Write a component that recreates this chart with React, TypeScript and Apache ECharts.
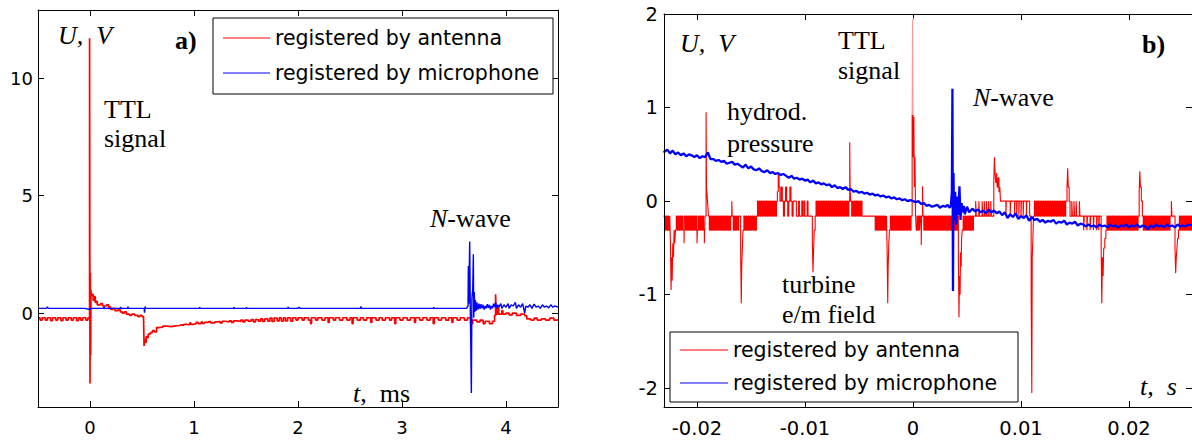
import React, { useEffect, useRef } from 'react';
import * as echarts from 'echarts';

const seriesNames = ['registered by antenna', 'registered by microphone'];

const xTicksA = [0, 1, 2, 3, 4];
const yTicksA = [0, 5, 10];
const xTicksB = [-0.02, -0.01, 0, 0.01, 0.02];
const yTicksB = [-2, -1, 0, 1, 2];

// Panel a) t in ms, U in V
const antennaA: [number, number][] = [
  [-0.5, -0.2], [-0.48, -0.3], [-0.46, -0.2], [-0.43, -0.3], [-0.41, -0.2], [-0.38, -0.32], [-0.36, -0.2], [-0.33, -0.3], [-0.31, -0.2],
  [-0.28, -0.32], [-0.26, -0.2], [-0.23, -0.3], [-0.21, -0.2], [-0.18, -0.3], [-0.16, -0.2], [-0.13, -0.32], [-0.11, -0.2], [-0.09, -0.3],
  [-0.07, -0.2], [-0.04, -0.3], [-0.02, -0.2],
  [-0.004, 11.7], [0.0, -3.0], [0.003, 1.7], [0.006, -1.8], [0.009, 1.0], [0.012, 0.75], [0.02, 0.8], [0.03, 0.55], [0.04, 0.7],
  [0.05, 0.45], [0.06, 0.5], [0.07, 0.35], [0.1, 0.4], [0.12, 0.3], [0.16, 0.35], [0.18, 0.25], [0.2, 0.15], [0.22, 0.2], [0.24, 0.1],
  [0.27, 0.15], [0.29, 0.05], [0.31, 0.0], [0.33, 0.05], [0.35, -0.05], [0.38, -0.1], [0.4, -0.05], [0.43, -0.1], [0.46, -0.15],
  [0.48, -0.1], [0.5, -0.15], [0.515, -0.25], [0.52, -1.4], [0.525, -1.1], [0.53, -1.25], [0.54, -1.0], [0.55, -1.05], [0.56, -0.9],
  [0.58, -0.83], [0.6, -0.75], [0.62, -0.8], [0.64, -0.62], [0.66, -0.6], [0.7, -0.56], [0.74, -0.58], [0.78, -0.55], [0.82, -0.53],
  [0.86, -0.5], [0.88, -0.53], [0.9, -0.48], [0.93, -0.5], [0.96, -0.42], [0.97, -0.48], [1.0, -0.45], [1.02, -0.4], [1.04, -0.45],
  [1.07, -0.38], [1.08, -0.44], [1.1, -0.4], [1.14, -0.36], [1.16, -0.42], [1.2, -0.38], [1.23, -0.35], [1.25, -0.42], [1.27, -0.35],
  [1.3, -0.38], [1.34, -0.33], [1.36, -0.4], [1.38, -0.33], [1.42, -0.36], [1.45, -0.3], [1.47, -0.38], [1.49, -0.3], [1.52, -0.35],
  [1.55, -0.28], [1.57, -0.38], [1.59, -0.28], [1.62, -0.35], [1.64, -0.25], [1.66, -0.36], [1.68, -0.25], [1.71, -0.35], [1.73, -0.22],
  [1.75, -0.36], [1.77, -0.22], [1.8, -0.33], [1.82, -0.2], [1.84, -0.35], [1.86, -0.2], [1.88, -0.33], [1.9, -0.2], [1.93, -0.35],
  [1.95, -0.2], [1.98, -0.3], [2.0, -0.2], [2.04, -0.3], [2.06, -0.2], [2.1, -0.3], [2.12, -0.45], [2.13, -0.2], [2.17, -0.3],
  [2.19, -0.2], [2.23, -0.3], [2.26, -0.2], [2.29, -0.4], [2.3, -0.2], [2.34, -0.3], [2.36, -0.2], [2.4, -0.3], [2.43, -0.2],
  [2.47, -0.3], [2.5, -0.2], [2.52, -0.45], [2.53, -0.2], [2.57, -0.3], [2.6, -0.2], [2.63, -0.3], [2.66, -0.2], [2.7, -0.4],
  [2.71, -0.2], [2.75, -0.3], [2.78, -0.2], [2.81, -0.3], [2.84, -0.2], [2.88, -0.3], [2.9, -0.2], [2.93, -0.45], [2.94, -0.2],
  [2.98, -0.3], [3.01, -0.2], [3.05, -0.3], [3.08, -0.2], [3.12, -0.4], [3.13, -0.2], [3.17, -0.3], [3.2, -0.2], [3.24, -0.3],
  [3.27, -0.2], [3.3, -0.45], [3.31, -0.2], [3.35, -0.3], [3.38, -0.2], [3.42, -0.3], [3.45, -0.2], [3.48, -0.4], [3.49, -0.2],
  [3.53, -0.3], [3.56, -0.2], [3.6, -0.3], [3.63, -0.2], [3.66, -0.45], [3.68, -0.3], [3.72, -0.38], [3.75, -0.3], [3.78, -0.45],
  [3.8, -0.35], [3.84, -0.45], [3.87, -0.35], [3.89, -0.1], [3.9, 0.8], [3.905, -0.05], [3.92, 0.3], [3.93, -0.05], [3.96, 0.1],
  [3.97, -0.05], [4.0, 0.0], [4.03, -0.08], [4.06, 0.0], [4.1, -0.1], [4.14, -0.05], [4.18, -0.12], [4.2, -0.25], [4.24, -0.3],
  [4.27, -0.22], [4.3, -0.3], [4.34, -0.25], [4.38, -0.3], [4.42, -0.22], [4.46, -0.3], [4.5, -0.25],
];

const microphoneA: [number, number][] = [
  [-0.5, 0.2], [-0.42, 0.2], [-0.41, 0.26], [-0.4, 0.2], [-0.05, 0.2], [0.0, 0.15], [0.01, 0.2], [0.13, 0.2], [0.135, 0.27],
  [0.14, 0.2], [0.29, 0.2], [0.295, 0.26], [0.3, 0.2], [0.36, 0.2], [0.365, 0.27], [0.37, 0.2], [0.52, 0.2], [0.525, 0.02],
  [0.53, 0.28], [0.535, 0.2], [1.05, 0.2], [1.055, 0.25], [1.06, 0.2], [1.38, 0.2], [1.385, 0.25], [1.39, 0.2], [1.5, 0.2],
  [1.505, 0.25], [1.51, 0.2], [1.9, 0.2], [1.905, 0.26], [1.91, 0.2], [2.0, 0.2], [2.01, 0.25], [2.02, 0.2], [2.6, 0.2],
  [2.605, 0.28], [2.61, 0.2], [3.3, 0.2], [3.305, 0.25], [3.31, 0.2], [3.62, 0.2], [3.635, 0.3], [3.638, 2.0], [3.642, 0.4],
  [3.651, 3.05], [3.656, 0.5], [3.667, -3.4], [3.672, 0.6], [3.68, 1.0], [3.686, 2.5], [3.69, -0.2], [3.695, 0.9], [3.7, 0.05],
  [3.705, 0.55], [3.715, 0.1], [3.72, 0.45], [3.73, 0.15], [3.74, 0.4], [3.75, 0.18], [3.76, 0.38], [3.77, 0.2], [3.78, 0.35],
  [3.79, 0.15], [3.8, 0.3], [3.81, 0.2], [3.82, 0.38], [3.83, 0.22], [3.84, 0.35], [3.85, 0.15], [3.86, 0.3], [3.87, 0.2],
  [3.88, 0.4], [3.89, 0.25], [3.9, 0.45], [3.91, 0.2], [3.92, 0.35], [3.93, 0.25], [3.95, 0.4], [3.96, 0.2], [3.98, 0.35],
  [4.0, 0.25], [4.02, 0.4], [4.03, 0.2], [4.05, 0.35], [4.07, 0.3], [4.09, 0.45], [4.1, 0.2], [4.12, 0.35], [4.14, 0.25],
  [4.16, 0.4], [4.18, 0.0], [4.19, 0.3], [4.21, 0.25], [4.23, 0.35], [4.25, 0.2], [4.27, 0.38], [4.29, 0.25], [4.31, 0.3],
  [4.33, 0.2], [4.35, 0.35], [4.37, 0.25], [4.39, 0.3], [4.41, 0.22], [4.43, 0.35], [4.45, 0.25], [4.47, 0.3], [4.5, 0.25],
];

// Panel b) t in s, U in V
const antennaB: [number, number][] = [
  [-0.0231, -0.16], [-0.02292, -0.31], [-0.02284, -0.16], [-0.02276, -0.31], [-0.02268, -0.16], [-0.0226, -0.31], [-0.02252, -0.16],
  [-0.02246, -0.45], [-0.0224, -0.95], [-0.02236, -0.6], [-0.0223, -0.85], [-0.02224, -0.45], [-0.02218, -0.6], [-0.02212, -0.31],
  [-0.02206, -0.45], [-0.022, -0.31], [-0.02192, -0.16], [-0.02184, -0.31], [-0.02176, -0.16], [-0.02166, -0.31], [-0.02158, -0.16],
  [-0.02148, -0.31], [-0.0214, -0.16], [-0.0213, -0.31], [-0.0212, -0.45], [-0.02116, -0.16], [-0.02106, -0.31], [-0.02098, -0.16],
  [-0.02088, -0.31], [-0.0208, -0.16], [-0.0207, -0.31], [-0.02062, -0.16], [-0.02054, -0.31], [-0.02046, -0.16], [-0.02036, -0.31],
  [-0.02028, -0.16], [-0.02018, -0.31], [-0.0201, -0.16], [-0.02, -0.45], [-0.01996, -0.31], [-0.01986, -0.16], [-0.01976, -0.31],
  [-0.01968, -0.16], [-0.01958, -0.31], [-0.0195, -0.16], [-0.0194, -0.31], [-0.01932, -0.45], [-0.01926, -0.16],
  [-0.01916, 0.95], [-0.01912, 0.15], [-0.01906, 0.05], [-0.019, -0.05], [-0.01894, -0.16],
  [-0.01886, -0.31], [-0.01876, -0.16], [-0.01866, -0.31], [-0.01858, -0.16], [-0.01848, -0.31], [-0.0184, -0.16], [-0.0183, -0.31],
  [-0.0182, -0.16], [-0.0181, -0.31], [-0.018, -0.16], [-0.0179, -0.31], [-0.01782, -0.16], [-0.01772, -0.31], [-0.01764, -0.16],
  [-0.01754, -0.31], [-0.01746, -0.16], [-0.01736, -0.31], [-0.01726, -0.16], [-0.01716, -0.31], [-0.01706, -0.16], [-0.01698, -0.31],
  [-0.01688, -0.16], [-0.01678, 0.0], [-0.01674, -0.16], [-0.01664, -0.31], [-0.01654, -0.16], [-0.01644, -0.31], [-0.01634, -0.16],
  [-0.01624, -0.31], [-0.01614, -0.16],
  [-0.01596, -0.55], [-0.0159, -1.09], [-0.01586, -0.7], [-0.0158, -0.5], [-0.01574, -0.31], [-0.01566, -0.16],
  [-0.01558, -0.31], [-0.01548, -0.16], [-0.0154, -0.31], [-0.0153, -0.16], [-0.0152, -0.31], [-0.0151, -0.16], [-0.015, -0.31],
  [-0.0149, -0.16], [-0.0148, -0.31], [-0.0147, -0.16], [-0.0146, -0.31], [-0.0145, -0.16], [-0.0144, 0.0],
  [-0.01432, -0.16], [-0.01424, 0.0], [-0.01416, -0.16], [-0.01408, 0.0], [-0.014, -0.16], [-0.01392, 0.0], [-0.01384, -0.16],
  [-0.01376, 0.0], [-0.01368, -0.16], [-0.0136, 0.0], [-0.01352, -0.16], [-0.01344, 0.0], [-0.01336, -0.16], [-0.01328, 0.0],
  [-0.0132, -0.16], [-0.01312, 0.0], [-0.01304, -0.16], [-0.01296, 0.0], [-0.01288, -0.16], [-0.0128, 0.0], [-0.01272, -0.16],
  [-0.01264, 0.0], [-0.01256, 0.1], [-0.01248, 0.28], [-0.0124, 0.15], [-0.01232, 0.0], [-0.0122, 0.15], [-0.0121, 0.0],
  [-0.012, -0.16], [-0.0119, 0.0], [-0.0118, 0.15], [-0.0117, 0.0], [-0.0116, -0.16], [-0.0115, 0.0], [-0.0114, 0.15],
  [-0.0113, 0.0], [-0.0112, -0.16], [-0.0111, 0.0], [-0.0108, -0.16], [-0.0106, 0.0], [-0.01052, -0.16], [-0.0103, 0.0],
  [-0.01022, -0.16], [-0.0101, 0.0], [-0.01002, -0.16], [-0.0098, 0.0], [-0.00972, -0.16],
  [-0.00932, -0.45], [-0.00926, -0.76], [-0.0092, -0.5], [-0.00914, -0.31], [-0.00906, -0.16],
  [-0.00898, 0.0], [-0.0089, -0.16], [-0.00882, 0.0], [-0.00874, -0.16], [-0.00866, 0.0], [-0.00858, -0.16], [-0.0085, 0.0],
  [-0.00842, -0.16], [-0.00834, 0.0], [-0.00826, -0.16], [-0.00818, 0.0], [-0.0081, -0.16], [-0.00802, 0.0], [-0.00794, -0.16],
  [-0.00786, 0.0], [-0.00778, -0.16], [-0.0077, 0.0], [-0.00762, -0.16], [-0.00754, 0.0], [-0.00746, -0.16], [-0.00738, 0.0],
  [-0.0073, -0.16], [-0.00722, 0.0], [-0.00714, -0.16], [-0.00706, 0.0], [-0.00698, -0.16], [-0.0069, 0.0], [-0.00682, -0.16],
  [-0.00674, 0.0], [-0.00666, -0.16], [-0.00658, 0.0], [-0.0065, -0.16], [-0.00642, 0.0], [-0.00634, -0.16], [-0.00626, 0.0],
  [-0.00618, -0.16], [-0.0061, 0.0], [-0.00602, -0.16], [-0.00594, 0.0],
  [-0.00586, 0.63], [-0.00582, 0.1], [-0.00576, 0.0], [-0.00568, -0.16], [-0.0056, 0.0], [-0.00552, -0.16], [-0.00544, 0.0],
  [-0.00536, -0.16], [-0.00528, 0.0], [-0.0052, -0.16], [-0.00512, 0.0], [-0.00504, -0.16], [-0.00496, 0.0], [-0.00488, -0.16],
  [-0.0048, 0.0], [-0.00472, -0.16],
  [-0.0035, -0.31], [-0.00342, -0.16], [-0.00334, -0.31], [-0.00326, -0.16], [-0.00318, -0.31], [-0.0031, -0.16], [-0.00302, -0.31],
  [-0.00294, -0.16], [-0.00286, -0.31], [-0.00278, -0.16], [-0.0027, -0.31], [-0.00262, -0.16], [-0.00254, -0.31], [-0.00246, -0.16],
  [-0.0024, -0.5], [-0.00234, -1.09], [-0.0023, -0.7], [-0.00224, -0.45], [-0.00218, -0.31], [-0.0021, -0.16], [-0.00202, -0.31],
  [-0.00194, -0.16], [-0.00186, -0.31], [-0.00178, -0.16], [-0.0017, -0.31], [-0.00162, -0.16], [-0.00154, -0.31], [-0.00146, -0.16],
  [-0.00138, -0.31], [-0.0013, -0.16], [-0.00122, -0.31], [-0.00114, -0.16], [-0.00106, -0.31], [-0.00098, -0.16], [-0.0009, -0.31],
  [-0.00082, -0.16], [-0.00074, -0.31], [-0.00066, -0.16], [-0.00058, -0.31], [-0.0005, -0.16], [-0.00042, -0.31], [-0.00034, -0.16],
  [-0.00026, -0.31], [-0.00018, -0.16],
  [-0.00008, 0.94], [-0.00004, 1.94], [0.00002, 0.47], [0.00008, 0.9], [0.00012, 0.15], [0.00018, 0.47], [0.00024, -0.16],
  [0.0003, -0.31], [0.00038, -0.16], [0.00046, -0.31], [0.00054, -0.16], [0.00062, -0.31], [0.00068, -0.16], [0.00076, -0.47],
  [0.0008, -0.16], [0.00088, 0.16], [0.00092, -0.16], [0.001, -0.31],
  [0.00108, -0.16], [0.00116, -0.31], [0.00124, -0.16], [0.00132, -0.31], [0.0014, -0.16], [0.00148, -0.31], [0.00156, -0.16],
  [0.00164, -0.31], [0.00172, -0.16], [0.0018, -0.31], [0.00188, -0.16], [0.00196, -0.31], [0.00204, -0.16], [0.00212, -0.31],
  [0.0022, -0.16], [0.00228, -0.31], [0.00236, -0.16], [0.00244, -0.31], [0.00252, -0.16], [0.0026, -0.31], [0.00268, -0.16],
  [0.00276, -0.31], [0.00284, -0.16], [0.00292, -0.31], [0.003, -0.16], [0.00308, -0.31], [0.00316, -0.16], [0.00324, -0.31],
  [0.00332, -0.16], [0.0034, -0.31], [0.00348, -0.16], [0.00356, -0.31], [0.00364, -0.16], [0.00372, -0.31], [0.0038, -0.16],
  [0.00388, -0.31], [0.00396, -0.16], [0.00404, -0.31], [0.00412, -0.16],
  [0.0042, -0.6], [0.00426, -1.24], [0.0043, -0.8], [0.00436, -1.0], [0.0044, -0.55], [0.00446, -0.7], [0.0045, -0.4],
  [0.00456, -0.31], [0.00464, -0.16], [0.00472, -0.31], [0.0048, -0.16], [0.00488, -0.31], [0.00496, -0.16], [0.00504, -0.31],
  [0.00512, -0.16], [0.0052, -0.31], [0.00528, -0.16], [0.00536, -0.31], [0.00544, -0.16], [0.00552, -0.31], [0.0056, -0.16],
  [0.0058, 0.0], [0.00586, -0.16], [0.0061, 0.0], [0.00616, -0.16], [0.0064, 0.0], [0.00646, -0.16], [0.0066, 0.0],
  [0.00666, -0.16], [0.0068, 0.0], [0.00686, -0.16], [0.007, 0.0], [0.00706, -0.16], [0.0072, 0.0], [0.00726, -0.16],
  [0.00748, 0.2], [0.00754, 0.47], [0.0076, 0.3], [0.00766, 0.2], [0.00774, 0.3], [0.0078, 0.15], [0.00788, 0.25],
  [0.00796, 0.1], [0.00804, 0.15], [0.0081, 0.0],
  [0.0086, -0.16], [0.00864, 0.0], [0.009, -0.16], [0.00904, 0.0], [0.0094, -0.16], [0.00944, 0.0], [0.0096, -0.16],
  [0.00964, 0.0], [0.0098, -0.16], [0.00984, 0.0], [0.01, -0.16], [0.01004, 0.0], [0.0102, -0.16], [0.01024, 0.0],
  [0.0105, -0.16], [0.01054, 0.0], [0.0108, -0.16],
  [0.01094, -1.0], [0.011, -2.05], [0.01104, -0.6], [0.0111, -0.4], [0.01116, -0.16],
  [0.01124, 0.0], [0.01132, -0.16], [0.0114, 0.0], [0.01148, -0.16], [0.01156, 0.0], [0.01164, -0.16], [0.01172, 0.0],
  [0.0118, -0.16], [0.0119, 0.0], [0.01198, -0.16], [0.01206, 0.0], [0.01214, -0.16], [0.01222, 0.0], [0.0123, -0.16],
  [0.01238, 0.0], [0.01246, -0.16], [0.01254, 0.0], [0.01262, -0.16], [0.0127, 0.0], [0.01278, -0.16], [0.01286, 0.0],
  [0.01294, -0.16], [0.01302, 0.0], [0.0131, -0.16], [0.01318, 0.0], [0.01326, -0.16], [0.01334, 0.0], [0.01342, -0.16],
  [0.0135, 0.0], [0.01358, -0.16], [0.01366, 0.0], [0.01374, -0.16], [0.01382, 0.0], [0.0139, -0.16], [0.01398, 0.0],
  [0.01406, -0.16], [0.01414, 0.0],
  [0.01426, 0.15], [0.01432, 0.35], [0.01438, 0.15], [0.01446, 0.0], [0.01454, -0.16], [0.0147, 0.0], [0.01476, -0.16],
  [0.0149, 0.0], [0.01496, -0.16], [0.0151, 0.0], [0.01516, -0.16], [0.0154, 0.0], [0.01546, -0.16],
  [0.0158, -0.31], [0.01586, -0.16], [0.0161, -0.31], [0.01616, -0.16], [0.0164, -0.31], [0.01646, -0.16], [0.0167, -0.31],
  [0.01676, -0.16], [0.017, -0.31], [0.01706, -0.16], [0.0172, -0.31], [0.01726, -0.16],
  [0.01742, -0.5], [0.01748, -1.09], [0.01754, -0.6], [0.0176, -0.8], [0.01766, -0.5], [0.01776, -0.4], [0.01786, -0.31],
  [0.01796, -0.16], [0.01804, -0.31], [0.01812, -0.16], [0.0182, -0.31], [0.01828, -0.16], [0.01836, -0.31], [0.01844, -0.16],
  [0.01852, -0.31], [0.0186, -0.16], [0.01868, -0.31], [0.01876, -0.16], [0.01884, -0.31], [0.01892, -0.16], [0.019, -0.31],
  [0.01908, -0.16], [0.01916, -0.31], [0.01924, -0.16], [0.01932, -0.31], [0.0194, -0.16], [0.01948, -0.31], [0.01956, -0.16],
  [0.01964, -0.31], [0.01972, -0.16], [0.0198, -0.31], [0.01988, -0.16], [0.01996, -0.31], [0.02004, -0.16], [0.02012, -0.31],
  [0.0202, -0.16], [0.02028, -0.31], [0.02036, -0.16], [0.02044, -0.31], [0.02052, -0.16], [0.0206, -0.31], [0.02068, -0.16],
  [0.02076, -0.31], [0.02084, -0.16],
  [0.02094, 0.1], [0.021, 0.32], [0.02106, 0.15], [0.02114, 0.0], [0.02124, -0.16],
  [0.02132, -0.31], [0.0214, -0.16], [0.02148, -0.31], [0.02156, -0.16], [0.02164, -0.31], [0.02172, -0.16], [0.0218, -0.31],
  [0.02188, -0.16], [0.02196, -0.31], [0.02204, -0.16], [0.02212, -0.31], [0.0222, -0.16], [0.02228, -0.31], [0.02236, -0.16],
  [0.02244, -0.31], [0.02252, -0.16], [0.0226, -0.31], [0.02268, -0.16], [0.02276, -0.31], [0.02284, -0.16], [0.02292, -0.31],
  [0.023, -0.16], [0.02308, -0.31], [0.02316, -0.16], [0.02324, -0.31], [0.02332, -0.16], [0.0234, -0.31], [0.02348, -0.16],
  [0.02356, -0.31], [0.02364, -0.16], [0.02372, -0.31], [0.0238, -0.16], [0.02392, 0.0], [0.02398, -0.16],
  [0.02426, -0.5], [0.02432, -0.77], [0.02438, -0.6], [0.02444, -0.5], [0.0245, -0.4], [0.02458, -0.31], [0.02466, -0.16],
  [0.02474, -0.31], [0.02482, -0.16], [0.0249, -0.31], [0.02498, -0.16], [0.02506, -0.31], [0.02514, -0.16], [0.02522, -0.31],
  [0.0253, -0.16], [0.02538, -0.31], [0.02546, -0.16], [0.02554, -0.31], [0.02562, -0.16], [0.0257, -0.31], [0.02578, -0.16],
  [0.0259, -0.16],
];

const microphoneB: [number, number][] = [
  [-0.0231, 0.52], [-0.02275, 0.55], [-0.0225, 0.51], [-0.02225, 0.54], [-0.022, 0.5], [-0.02175, 0.52], [-0.0215, 0.49],
  [-0.02125, 0.51], [-0.021, 0.48], [-0.02075, 0.5], [-0.0205, 0.49], [-0.02025, 0.47], [-0.02, 0.49], [-0.01975, 0.46],
  [-0.0195, 0.48], [-0.01925, 0.47], [-0.019, 0.52], [-0.01875, 0.45], [-0.0185, 0.45], [-0.01825, 0.43], [-0.018, 0.44],
  [-0.01775, 0.42], [-0.0175, 0.43], [-0.01725, 0.4], [-0.017, 0.41], [-0.01675, 0.42], [-0.0165, 0.39], [-0.01625, 0.4],
  [-0.016, 0.38], [-0.01575, 0.36], [-0.0155, 0.39], [-0.01525, 0.35], [-0.015, 0.37], [-0.01475, 0.34], [-0.0145, 0.33],
  [-0.01425, 0.35], [-0.014, 0.32], [-0.01375, 0.31], [-0.0135, 0.33], [-0.01325, 0.3], [-0.013, 0.31], [-0.01275, 0.29],
  [-0.0125, 0.3], [-0.01225, 0.28], [-0.012, 0.29], [-0.01175, 0.27], [-0.0115, 0.25], [-0.01125, 0.27], [-0.011, 0.24],
  [-0.01075, 0.25], [-0.0105, 0.23], [-0.01025, 0.24], [-0.01, 0.22], [-0.00975, 0.23], [-0.0095, 0.2], [-0.00925, 0.22],
  [-0.009, 0.19], [-0.00875, 0.2], [-0.0085, 0.18], [-0.00825, 0.19], [-0.008, 0.17], [-0.00775, 0.18], [-0.0075, 0.15],
  [-0.00725, 0.17], [-0.007, 0.14], [-0.00675, 0.15], [-0.0065, 0.13], [-0.00625, 0.15], [-0.006, 0.12], [-0.00575, 0.13],
  [-0.0055, 0.1], [-0.00525, 0.11], [-0.005, 0.09], [-0.00475, 0.1], [-0.0045, 0.08], [-0.00425, 0.09], [-0.004, 0.07],
  [-0.00375, 0.08], [-0.0035, 0.06], [-0.00325, 0.07], [-0.003, 0.05], [-0.00275, 0.06], [-0.0025, 0.04], [-0.00225, 0.05],
  [-0.002, 0.03], [-0.00175, 0.04], [-0.0015, 0.02], [-0.00125, 0.03], [-0.001, 0.01], [-0.00075, 0.02], [-0.0005, 0.0],
  [-0.00025, 0.01], [0.0, 0.0], [0.00025, -0.01], [0.0005, 0.0], [0.00075, -0.03], [0.001, -0.02], [0.00125, -0.05],
  [0.0015, -0.04], [0.00175, -0.06], [0.002, -0.05], [0.00225, -0.04], [0.0025, -0.07], [0.00275, -0.05], [0.003, -0.06],
  [0.0032, -0.04], [0.0034, -0.07], [0.0035, -0.05], [0.0036, 0.1], [0.00365, 1.2], [0.0037, -0.96], [0.00375, 0.3],
  [0.0038, -0.2], [0.0039, 0.1], [0.004, -0.25], [0.0041, 0.05], [0.0042, -0.15], [0.0043, 0.16], [0.0044, -0.2],
  [0.0045, -0.02], [0.0046, -0.12], [0.0047, -0.05], [0.0048, -0.14], [0.005, -0.06], [0.0052, -0.12], [0.0055, -0.08],
  [0.00575, -0.11], [0.006, -0.09], [0.00625, -0.12], [0.0065, -0.1], [0.00675, -0.13], [0.007, -0.09], [0.00725, -0.12],
  [0.0075, -0.1], [0.00775, -0.13], [0.008, -0.11], [0.00825, -0.15], [0.0085, -0.12], [0.00875, -0.18], [0.009, -0.14],
  [0.00925, -0.17], [0.0095, -0.13], [0.00975, -0.19], [0.01, -0.16], [0.01025, -0.18], [0.0105, -0.15], [0.01075, -0.21],
  [0.011, -0.17], [0.01125, -0.2], [0.0115, -0.19], [0.01175, -0.22], [0.012, -0.2], [0.01225, -0.23], [0.0125, -0.21],
  [0.01275, -0.22], [0.013, -0.2], [0.01325, -0.24], [0.0135, -0.22], [0.01375, -0.23], [0.014, -0.21], [0.01425, -0.25],
  [0.0145, -0.23], [0.01475, -0.24], [0.015, -0.22], [0.01525, -0.26], [0.0155, -0.24], [0.01575, -0.25], [0.016, -0.27],
  [0.01625, -0.25], [0.0165, -0.27], [0.01675, -0.26], [0.017, -0.28], [0.01725, -0.25], [0.0175, -0.27], [0.01775, -0.26],
  [0.018, -0.28], [0.01825, -0.25], [0.0185, -0.27], [0.01875, -0.26], [0.019, -0.28], [0.01925, -0.26], [0.0195, -0.27],
  [0.01975, -0.25], [0.02, -0.28], [0.02025, -0.26], [0.0205, -0.27], [0.02075, -0.25], [0.021, -0.28], [0.02125, -0.26],
  [0.0215, -0.27], [0.02175, -0.3], [0.022, -0.26], [0.02225, -0.28], [0.0225, -0.25], [0.02275, -0.27], [0.023, -0.26],
  [0.02325, -0.28], [0.0235, -0.25], [0.02375, -0.27], [0.024, -0.26], [0.02425, -0.28], [0.0245, -0.25], [0.02475, -0.27],
  [0.025, -0.26], [0.02525, -0.27], [0.0255, -0.25], [0.0259, -0.26],
];

const SANS = '"DejaVu Sans", sans-serif';
const SERIF = '"Liberation Serif", "Times New Roman", serif';
const RED = '#ff0000';
const BLUE = '#0000ff';

function valueAxis(o: any) {
  return {
    type: 'value',
    gridIndex: o.grid,
    min: o.min,
    max: o.max,
    position: o.position,
    axisLine: { show: o.line !== false, onZero: false, lineStyle: { color: '#000', width: 1 } },
    axisTick: { show: true, inside: true, length: 6, customValues: o.ticks, lineStyle: { color: '#000', width: 1 } },
    axisLabel: {
      show: !!o.labels,
      customValues: o.ticks,
      color: '#000',
      fontFamily: SANS,
      fontSize: o.fontSize || 18,
      margin: o.margin || 8,
    },
    splitLine: { show: false },
    z: 5,
  };
}

function txt(text: string, x: number, baseline: number, font: string, size = 26, rich?: any) {
  return {
    type: 'text',
    x,
    y: baseline - 0.34 * size,
    z: 100,
    style: {
      text,
      font,
      fill: '#000',
      verticalAlign: 'middle',
      align: 'left',
      rich,
    },
  };
}

const italicRich = { i: { fontStyle: 'italic', fontFamily: SERIF, fontSize: 26, fill: '#000' } };

function legendAt(left: number, top: number, pad: number[], gap: number, w: number, textW: number) {
  return {
    orient: 'vertical',
    left,
    top,
    data: seriesNames,
    selectedMode: false,
    backgroundColor: '#fff',
    borderColor: '#000',
    borderWidth: 1,
    borderRadius: 0,
    padding: pad,
    itemGap: gap,
    itemWidth: w,
    itemHeight: 1,
    icon: 'rect',
    textStyle: { fontFamily: SANS, fontSize: 20.5, color: '#000', width: textW, lineHeight: 22 },
    z: 20,
  };
}

const option: any = {
  animation: false,
  backgroundColor: '#fff',
  grid: [
    { left: 38, top: 10, width: 520, height: 397 },
    { left: 664, top: 14, width: 528, height: 393 },
  ],
  xAxis: [
    valueAxis({ grid: 0, min: -0.5, max: 4.5, position: 'bottom', ticks: xTicksA, labels: true, margin: 11 }),
    valueAxis({ grid: 0, min: -0.5, max: 4.5, position: 'top', ticks: xTicksA }),
    valueAxis({ grid: 1, min: -0.023056, max: 0.025833, position: 'bottom', ticks: xTicksB, labels: true, fontSize: 19.5, margin: 11 }),
    valueAxis({ grid: 1, min: -0.023056, max: 0.025833, position: 'top', ticks: xTicksB }),
  ],
  yAxis: [
    valueAxis({ grid: 0, min: -4, max: 12.9, position: 'left', ticks: yTicksA, labels: true, margin: 5 }),
    valueAxis({ grid: 0, min: -4, max: 12.9, position: 'right', ticks: yTicksA }),
    valueAxis({ grid: 1, min: -2.2, max: 2, position: 'left', ticks: yTicksB, labels: true, fontSize: 19.5, margin: 6 }),
    valueAxis({ grid: 1, min: -2.2, max: 2, position: 'right', ticks: yTicksB, line: false }),
  ],
  legend: [
    legendAt(213, 18, [9, 9, 10, 10], 13, 47, 269),
    legendAt(670, 332, [7, 9, 8, 10], 11, 48, 276),
  ],
  series: [
    {
      name: seriesNames[0], type: 'line', xAxisIndex: 0, yAxisIndex: 0, data: antennaA, step: 'end',
      symbol: 'none', showSymbol: false, lineStyle: { color: RED, width: 1.7 }, itemStyle: { color: RED }, z: 2,
    },
    {
      name: seriesNames[1], type: 'line', xAxisIndex: 0, yAxisIndex: 0, data: microphoneA,
      symbol: 'none', showSymbol: false, lineStyle: { color: BLUE, width: 1.4 }, itemStyle: { color: BLUE }, z: 3,
    },
    {
      name: seriesNames[0], type: 'line', xAxisIndex: 2, yAxisIndex: 2, data: antennaB, step: 'end',
      symbol: 'none', showSymbol: false, lineStyle: { color: RED, width: 1.1 }, itemStyle: { color: RED }, z: 2,
    },
    {
      name: seriesNames[1], type: 'line', xAxisIndex: 2, yAxisIndex: 2, data: microphoneB,
      symbol: 'none', showSymbol: false, lineStyle: { color: BLUE, width: 2.3 }, itemStyle: { color: BLUE }, z: 3,
    },
  ],
  graphic: [
    { type: 'rect', shape: { x: 905, y: 18, width: 22, height: 97 }, style: { fill: 'rgba(255,255,255,0.6)' }, z: 50 },
    txt('U,\u2002V', 58, 44, `italic 26px ${SERIF}`),
    txt('a)', 175, 49, `bold 26px ${SERIF}`),
    txt('TTL', 104, 118, `26px ${SERIF}`),
    txt('signal', 104, 147, `26px ${SERIF}`),
    txt('{i|N}-wave', 430, 227, `26px ${SERIF}`, 26, italicRich),
    txt('{i|t},\u2002ms', 353, 402, `26px ${SERIF}`, 26, italicRich),
    txt('U,\u2002V', 680, 52, `italic 26px ${SERIF}`),
    txt('TTL', 838, 49, `26px ${SERIF}`),
    txt('signal', 838, 79, `26px ${SERIF}`),
    txt('hydrod.', 727, 120, `26px ${SERIF}`),
    txt('pressure', 727, 152, `26px ${SERIF}`),
    txt('turbine', 782, 293, `26px ${SERIF}`),
    txt('e/m field', 782, 323, `26px ${SERIF}`),
    txt('{i|N}-wave', 973, 106, `26px ${SERIF}`, 26, italicRich),
    txt('b)', 1142, 53, `bold 26px ${SERIF}`),
    txt('t,\u2002s', 1140, 395, `italic 26px ${SERIF}`),
  ],
};

export default function App() {
  const ref = useRef<HTMLDivElement>(null);
  useEffect(() => {
    if (!ref.current) return;
    const chart = echarts.init(ref.current, null, { renderer: 'svg' });
    chart.setOption(option);
    return () => chart.dispose();
  }, []);
  return (
    <div
      ref={ref}
      style={{ position: 'absolute', left: 0, top: 0, width: 1192, height: 441, background: '#fff' }}
    />
  );
}
